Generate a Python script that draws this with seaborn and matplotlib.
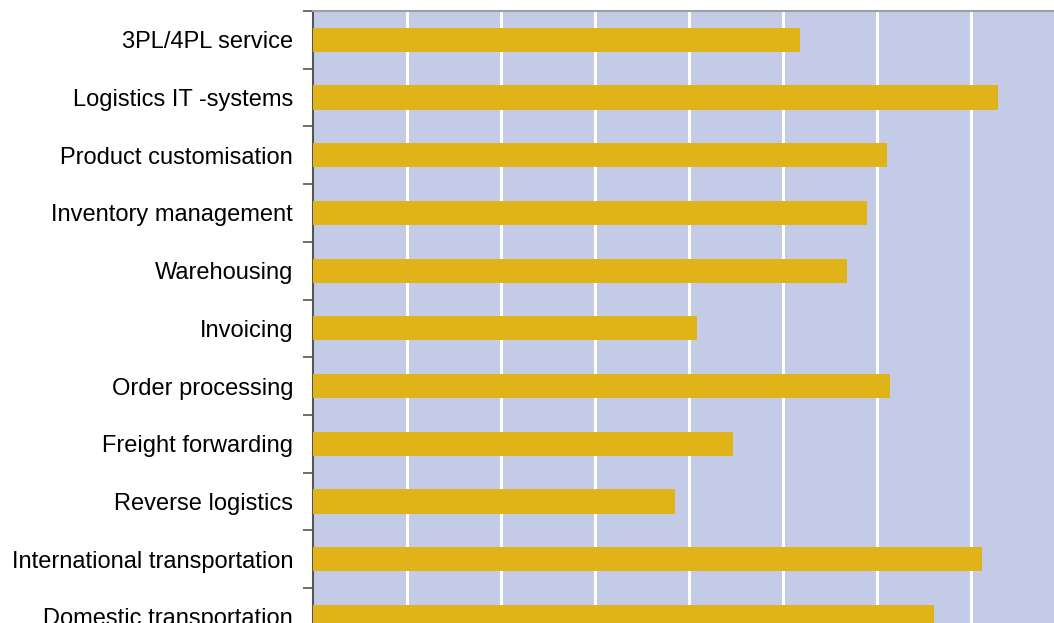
import matplotlib
matplotlib.use("Agg")
import matplotlib.pyplot as plt
import seaborn as sns
import pandas as pd
import numpy as np

services = [
    "3PL/4PL service",
    "Logistics IT -systems",
    "Product customisation",
    "Inventory management",
    "Warehousing",
    "Invoicing",
    "Order processing",
    "Freight forwarding",
    "Reverse logistics",
    "International transportation",
    "Domestic transportation",
]
scores = [5.18, 7.28, 6.10, 5.89, 5.68, 4.09, 6.14, 4.47, 3.85, 7.11, 6.60]

sns.set_theme(style="white")
plt.rcParams["font.family"] = ["Liberation Sans", "DejaVu Sans"]

df = pd.DataFrame({"service": services, "score": scores})

W, H, DPI = 1054, 623, 100
fig = plt.figure(figsize=(W / DPI, H / DPI), dpi=DPI)
unit = 94.1
left_px, top_px = 312.5, 11
n = len(services)
band = 57.7
ax = fig.add_axes([left_px / W, (H - top_px - n * band) / H,
                   8 * unit / W, n * band / H])
ax.set_facecolor("#C3CBE7")

sns.barplot(data=df, x="score", y="service", orient="h", color="#E0B418",
            saturation=1, width=0.42, linewidth=0, ax=ax, zorder=3)

ax.set_xlim(0, 8)
ax.set_ylim(n - 0.5, -0.5)
ax.set_xticks(np.arange(1, 8))
ax.set_xticklabels([])
ax.tick_params(axis="x", length=0)
ax.grid(axis="x", color="white", linewidth=2.2, zorder=1)
ax.set_axisbelow(True)

ax.set_yticks(range(n))
ax.set_yticklabels(services, fontsize=17, color="black")
ax.tick_params(axis="y", length=0, pad=14)
ax.set_yticks(np.arange(-0.5, n, 1), minor=True)
ax.tick_params(axis="y", which="minor", length=7, width=1.2, color="#555555",
               left=True)

ax.set_xlabel("")
ax.set_ylabel("")
for side in ["right", "bottom"]:
    ax.spines[side].set_visible(False)
ax.spines["top"].set_color("#A0A0A0")
ax.spines["top"].set_linewidth(1.5)
ax.spines["left"].set_color("#555555")
ax.spines["left"].set_linewidth(1.5)

fig.savefig("out.png", dpi=DPI, facecolor="white")
